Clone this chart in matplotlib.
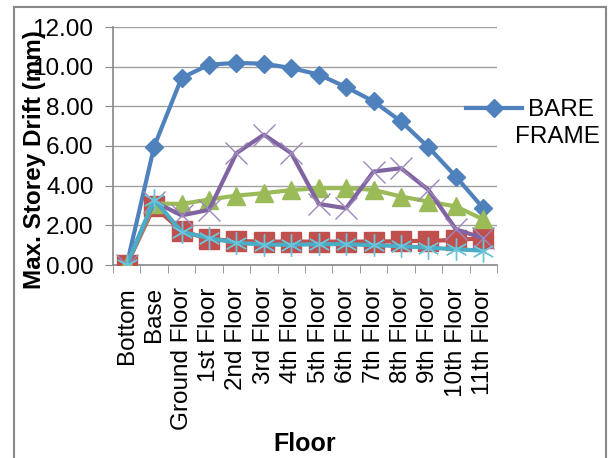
import matplotlib
matplotlib.use("Agg")
import matplotlib.pyplot as plt
from matplotlib.patches import Rectangle

plt.rcParams['font.family'] = ['Liberation Sans', 'DejaVu Sans']

# Etiquetas de pisos y derivas (mm)
pisos = ['Bottom', 'Base', 'Ground Floor', '1st Floor', '2nd Floor', '3rd Floor',
         '4th Floor', '5th Floor', '6th Floor', '7th Floor', '8th Floor',
         '9th Floor', '10th Floor', '11th Floor']

bare_frame = [0.0, 5.97, 9.43, 10.1, 10.19, 10.15, 9.93, 9.6, 8.97, 8.25, 7.24, 5.94, 4.46, 2.86]
serie_roja = [0.0, 2.95, 1.72, 1.31, 1.21, 1.18, 1.18, 1.18, 1.18, 1.18, 1.2, 1.22, 1.26, 1.35]
serie_verde = [0.0, 3.1, 3.08, 3.3, 3.5, 3.62, 3.78, 3.87, 3.88, 3.79, 3.45, 3.2, 2.95, 2.3]
serie_morada = [0.0, 3.2, 2.5, 2.78, 5.64, 6.57, 5.64, 3.08, 2.86, 4.71, 4.88, 3.79, 1.8, 1.35]
serie_cian = [0.0, 3.3, 1.68, 1.35, 1.12, 1.03, 1.02, 1.05, 1.05, 1.0, 0.95, 0.87, 0.8, 0.72]

fig = plt.figure(figsize=(6.14, 4.58), dpi=100)
ax = fig.add_axes([113 / 614, 1 - 265 / 458, 384 / 614, 238 / 458])

x = list(range(len(pisos)))
linea_bare, = ax.plot(x, bare_frame, color='#4F81BD', lw=3, marker='D', ms=9,
                      label='BARE', zorder=3)
ax.plot(x, serie_roja, color='#C0504D', lw=3, marker='s', ms=15, zorder=3)
ax.plot(x, serie_verde, color='#9BBB59', lw=3, marker='^', ms=13, zorder=3)
ax.plot(x, serie_morada, color='#8064A2', lw=3, marker='x', ms=16, mew=1,
        mec='#9C88BA', zorder=3)
ax.plot(x, serie_cian, color='#4BACC6', lw=3, marker=(6, 2, 0), ms=16, mew=1,
        mec='#6CC3DA', zorder=3)

ax.set_xlim(-0.5, len(pisos) - 0.5)
ax.set_ylim(0, 12)
ax.set_yticks([0, 2, 4, 6, 8, 10, 12])
ax.set_yticklabels([f'{v:.2f}' for v in [0, 2, 4, 6, 8, 10, 12]], fontsize=17.5)
ax.set_xticks(x)
ax.set_xticklabels(pisos, rotation=90, fontsize=17.5)
ax.set_xticks([i - 0.5 for i in range(len(pisos) + 1)], minor=True)
ax.tick_params(axis='x', which='major', length=0, pad=16)
ax.tick_params(axis='x', which='minor', length=6, color='#888888', direction='out')
ax.tick_params(axis='y', length=6, color='#888888', direction='out', pad=8)

ax.grid(axis='y', color='#A0A0A0', lw=1)
ax.set_axisbelow(True)
for lado in ['top', 'right']:
    ax.spines[lado].set_visible(False)
for lado in ['left', 'bottom']:
    ax.spines[lado].set_color('#888888')
    ax.spines[lado].set_linewidth(1.2)

ax.set_xlabel('Floor', fontsize=18, fontweight='bold')
ax.xaxis.set_label_coords(0.5, (265 - 432) / 238)
ax.set_ylabel('Max. Storey Drift (mm)', fontsize=17.5, fontweight='bold')
ax.yaxis.set_label_coords(-0.175, (265 - 160) / 238)

fig.legend(handles=[linea_bare], loc='upper left',
           bbox_to_anchor=(454 / 614, 1 - 87 / 458), frameon=False,
           fontsize=17.5, handlelength=2.3, handletextpad=0.25, borderpad=0)
fig.text(515 / 614, 1 - 126 / 458, 'FRAME', fontsize=17.5, va='top', ha='left')

fig.patches.append(Rectangle((14 / 614, -0.05), 592 / 614, 1.05 - 7 / 458,
                             transform=fig.transFigure, fill=False,
                             edgecolor='#888888', lw=1.5))

fig.savefig('out.png', dpi=100)
